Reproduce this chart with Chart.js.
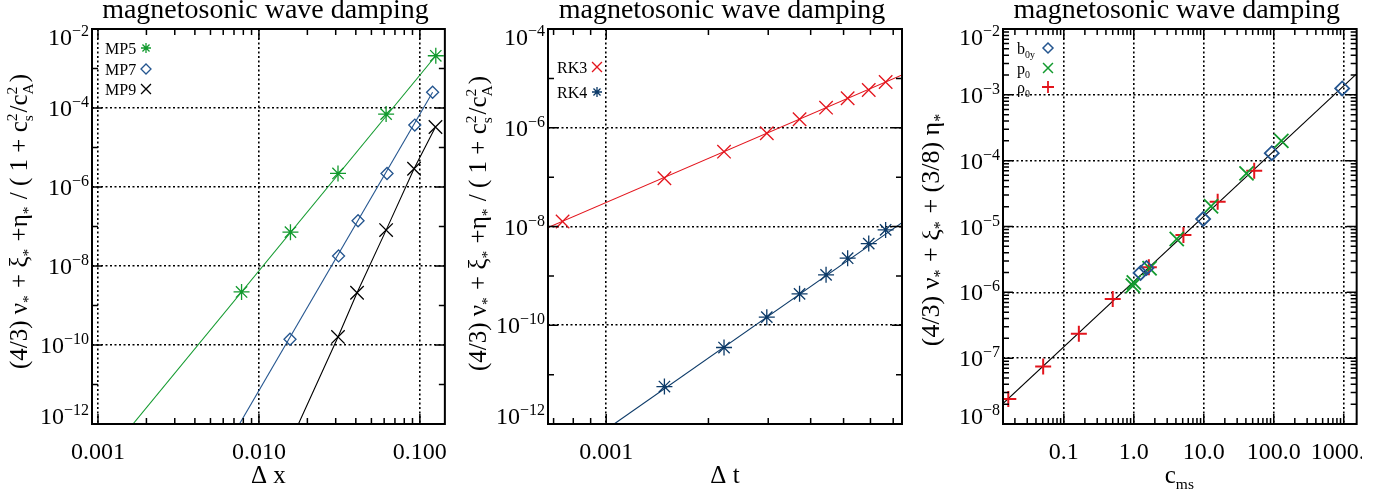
<!DOCTYPE html>
<html>
<head>
<meta charset="utf-8">
<script src="https://cdn.jsdelivr.net/npm/chart.js@4.4.1/dist/chart.umd.min.js"></script>
<style>
  html, body { margin: 0; padding: 0; background: #fff; }
  body { width: 1392px; height: 493px; position: relative; overflow: hidden; }
  .pane { position: absolute; top: 0; height: 493px; overflow: hidden; }
</style>
</head>
<body>
<div class="pane" style="left:0;width:462px"><canvas id="c1" width="462" height="493"></canvas></div>
<div class="pane" style="left:462px;width:460px"><canvas id="c2" width="460" height="493"></canvas></div>
<div class="pane" style="left:922px;width:440px"><canvas id="c3" width="470" height="493"></canvas></div>
<script>
// ---- panel 1: error vs grid spacing
const mp5Dx  = [0.0078, 0.0157, 0.031, 0.0617, 0.1256]
const mp5Err = [2.2e-9, 7.2e-8, 2.2e-6, 7.0e-5, 2.1e-3]
const mp7Dx  = [0.0156, 0.03125, 0.0413, 0.0625, 0.093, 0.12]
const mp7Err = [1.4e-10, 1.8e-8, 1.4e-7, 2.2e-6, 3.7e-5, 2.5e-4]
const mp9Dx  = [0.031, 0.0407, 0.0617, 0.092, 0.125]
const mp9Err = [1.6e-10, 2.1e-9, 8.1e-8, 2.9e-6, 3.3e-5]
// fitted lines (end points)
const mp5FitDx = [0.00165, 0.1256]
const mp5FitErr = [1e-12, 2.1e-3]
const mp7FitDx = [0.00757, 0.12]
const mp7FitErr = [1e-12, 2.5e-4]
const mp9FitDx = [0.0176, 0.031, 0.0407, 0.0617, 0.092, 0.125]
const mp9FitErr = [1e-12, 1.6e-10, 2.1e-9, 8.1e-8, 2.9e-6, 3.3e-5]

// ---- panel 2: error vs time step
const rk3Dt  = [0.000744, 0.001484, 0.002223, 0.002971, 0.00371, 0.00444, 0.00514, 0.00593, 0.00665]
const rk3Err = [1.26e-8, 9.5e-8, 3.28e-7, 7.74e-7, 1.49e-6, 2.55e-6, 3.96e-6, 5.82e-6, 8.45e-6]
const rk4Dt  = [0.001484, 0.002223, 0.002971, 0.00371, 0.00444, 0.00514, 0.00593, 0.00665]
const rk4Err = [5.74e-12, 3.54e-11, 1.46e-10, 4.33e-10, 1.05e-9, 2.28e-9, 4.51e-9, 8.53e-9]
const rk3FitDt = [0.000674, 0.00743]
const rk3FitErr = [9.5e-9, 1.17e-5]
const rk4FitDt = [0.001055, 0.00743]
const rk4FitErr = [1e-12, 1.2e-8]

// ---- panel 3: damping vs c_ms
const b0yCms  = [1.25, 1.52, 9.8, 93.8, 952]
const b0yDamp = [1.97e-6, 2.35e-6, 1.30e-5, 1.30e-4, 1.25e-3]
const p0Cms   = [0.97, 1.0, 1.68, 4.11, 12.7, 40.8, 128.5]
const p0Damp  = [1.26e-6, 1.41e-6, 2.32e-6, 6.46e-6, 2.03e-5, 6.41e-5, 2.0e-4]
const rho0Cms  = [0.0161, 0.0507, 0.164, 0.50, 1.64, 5.12, 15.8, 52.6]
const rho0Damp = [2.4e-8, 7.46e-8, 2.34e-7, 7.9e-7, 2.4e-6, 7.43e-6, 2.38e-5, 7.03e-5]
const cmsFit  = [0.0135, 1500]
const dampFit = [2.04e-8, 2.05e-3]

// ---- tick labels
const dxLabels  = [[0.001, '0.001'], [0.01, '0.010'], [0.1, '0.100']]
const dtLabels  = [[0.001, '0.001']]
const cmsLabels = [[0.1, '0.1'], [1, '1.0'], [10, '10.0'], [100, '100.0'], [1000, '1000.0']]
const errExp1 = [-12, -10, -8, -6, -4, -2]
const errExp2 = [-12, -10, -8, -6, -4]
const dampExp = [-8, -7, -6, -5, -4, -3, -2]

const SERIF = '"Liberation Serif", "Times New Roman", serif'
const GREEN = '#129a2e'
const BLUE = '#24558f'
const NAVY = '#0c3a68'
const RED = '#e3141c'

const pts = (xs, ys) => xs.map((x, i) => ({x: x, y: ys[i]}))
const lg = Math.log10
const near = (v, list) => list.some(b => Math.abs(lg(v) - lg(b)) < 1e-6)

function logTicks(min, max, mults) {
  const out = []
  for (let e = Math.floor(lg(min)) - 1; e <= Math.ceil(lg(max)) + 1; e++) {
    for (const m of mults) {
      const v = m * Math.pow(10, e)
      if (v >= min * 0.9999 && v <= max * 1.0001) out.push(v)
    }
  }
  return out
}

const ALL = [1, 2, 3, 4, 5, 6, 7, 8, 9]

function axis(o) {
  const list = logTicks(o.min, o.max, o.mults)
  o.list = list
  return {
    type: 'logarithmic',
    min: o.min,
    max: o.max,
    afterBuildTicks: s => { s.ticks = list.map(v => ({value: v})) },
    afterFit: s => { if (o.x) s.height = o.size; else s.width = o.size },
    grid: {
      drawTicks: false,
      lineWidth: 1.6,
      color: c => (c.tick && near(c.tick.value, o.grid)) ? '#000' : 'rgba(0,0,0,0)'
    },
    border: {display: false, dash: [2, 2.5]},
    ticks: o.x ? {
      autoSkip: false, maxRotation: 0, minRotation: 0, padding: 14,
      color: '#000', font: {family: SERIF, size: 24},
      callback: v => {
        const f = o.labels.find(l => Math.abs(lg(l[0]) - lg(v)) < 1e-6)
        return f ? f[1] : ''
      }
    } : {display: false}
  }
}

// rich text: segments [kind, text]; kind n = normal, u = sup, d = sub, ud = [sup, sub]
function rich(ctx, segs, x, y, size, align) {
  const sm = size * 0.62
  const f = s => s + 'px ' + SERIF
  const w = segs.map(g => {
    if (g[0] === 'n') { ctx.font = f(size); return ctx.measureText(g[1]).width }
    ctx.font = f(sm)
    if (g[0] === 'ud') return Math.max(ctx.measureText(g[1][0]).width, ctx.measureText(g[1][1]).width) + 1
    return ctx.measureText(g[1]).width + 1
  })
  const total = w.reduce((a, b) => a + b, 0)
  let cx = align === 'center' ? x - total / 2 : align === 'right' ? x - total : x
  ctx.textAlign = 'left'
  ctx.textBaseline = 'alphabetic'
  segs.forEach((g, i) => {
    if (g[0] === 'n') { ctx.font = f(size); ctx.fillText(g[1], cx, y) }
    else {
      ctx.font = f(sm)
      if (g[0] === 'u') ctx.fillText(g[1], cx, y - size * 0.42)
      else if (g[0] === 'd') ctx.fillText(g[1], cx, y + size * 0.22)
      else { ctx.fillText(g[1][0], cx, y - size * 0.42); ctx.fillText(g[1][1], cx, y + size * 0.24) }
    }
    cx += w[i]
  })
}

function mark(ctx, style, x, y, r) {
  const d = r * Math.SQRT1_2
  ctx.beginPath()
  if (style === 'rectRot') {
    ctx.moveTo(x - r, y); ctx.lineTo(x, y - r); ctx.lineTo(x + r, y); ctx.lineTo(x, y + r); ctx.closePath()
  }
  if (style === 'cross' || style === 'star') {
    ctx.moveTo(x - r, y); ctx.lineTo(x + r, y); ctx.moveTo(x, y - r); ctx.lineTo(x, y + r)
  }
  if (style === 'crossRot' || style === 'star') {
    ctx.moveTo(x - d, y - d); ctx.lineTo(x + d, y + d); ctx.moveTo(x - d, y + d); ctx.lineTo(x + d, y - d)
  }
  ctx.stroke()
}

function deco(spec) {
  return {
    id: 'deco',
    afterDraw(chart) {
      const {ctx, chartArea: a, scales} = chart
      ctx.save()
      ctx.strokeStyle = '#000'
      ctx.fillStyle = '#000'
      // inward tick marks on all four sides
      ctx.lineWidth = 1.5
      spec.xa.list.forEach(v => {
        const p = scales.x.getPixelForValue(v)
        const L = near(v, spec.xa.grid) ? 10 : 6
        ctx.beginPath()
        ctx.moveTo(p, a.bottom); ctx.lineTo(p, a.bottom - L)
        ctx.moveTo(p, a.top); ctx.lineTo(p, a.top + L)
        ctx.stroke()
      })
      spec.ya.list.forEach(v => {
        const p = scales.y.getPixelForValue(v)
        const L = near(v, spec.ya.grid) ? 10 : 6
        ctx.beginPath()
        ctx.moveTo(a.left, p); ctx.lineTo(a.left + L, p)
        ctx.moveTo(a.right, p); ctx.lineTo(a.right - L, p)
        ctx.stroke()
      })
      ctx.lineWidth = 2
      ctx.strokeRect(a.left, a.top, a.right - a.left, a.bottom - a.top)

      // y tick labels 10^n
      spec.yExp.forEach(e => {
        const p = scales.y.getPixelForValue(Math.pow(10, e))
        const base = Math.min(Math.max(p + 8, a.top + 16), a.bottom)
        ctx.textAlign = 'left'
        ctx.textBaseline = 'alphabetic'
        const sup = '\u2212' + Math.abs(e)
        ctx.font = '16px ' + SERIF
        const ws = ctx.measureText(sup).width
        ctx.font = '24px ' + SERIF
        const w10 = ctx.measureText('10').width
        const x0 = a.left - 3 - ws - w10
        ctx.fillText('10', x0, base)
        ctx.font = '16px ' + SERIF
        ctx.fillText(sup, x0 + w10, base - 9)
      })

      // title
      ctx.font = '28px ' + SERIF
      ctx.textAlign = 'center'
      ctx.textBaseline = 'alphabetic'
      ctx.fillText('magnetosonic wave damping', (a.left + a.right) / 2 - 3, 17.5)

      // axis titles
      rich(ctx, spec.xTitle, (a.left + a.right) / 2, 483, 25, 'center')
      ctx.save()
      ctx.translate(spec.yTitleX, (a.top + a.bottom) / 2 + spec.yTitleDy)
      ctx.rotate(-Math.PI / 2)
      rich(ctx, spec.yTitle, 0, 8, spec.yTitleSize, 'center')
      ctx.restore()

      // legend
      spec.legend.forEach(it => {
        ctx.fillStyle = '#000'
        rich(ctx, it.text, a.left + spec.legX, a.top + it.dy + 6, 16, 'left')
        ctx.strokeStyle = it.color
        ctx.lineWidth = it.lw
        mark(ctx, it.style, a.left + spec.legM, a.top + it.dy, it.r)
      })
      ctx.restore()
    }
  }
}

function markers(xs, ys, color, style, r, bw) {
  return {data: pts(xs, ys), showLine: false, pointStyle: style, pointRadius: r,
    borderColor: color, pointBorderWidth: bw, backgroundColor: 'rgba(0,0,0,0)'}
}
function fitLine(xs, ys, color) {
  return {data: pts(xs, ys), showLine: true, pointRadius: 0, borderColor: color, borderWidth: 1.1}
}

function panel(id, spec, datasets, pad) {
  new Chart(document.getElementById(id), {
    type: 'scatter',
    data: {datasets: datasets},
    options: {
      responsive: false,
      animation: false,
      events: [],
      layout: {padding: {left: 0, top: 29, right: pad, bottom: 0}},
      scales: {x: axis(spec.xa), y: axis(spec.ya)},
      plugins: {legend: {display: false}, tooltip: {enabled: false}}
    },
    plugins: [deco(spec)]
  })
}

const yTitleA = [['n', '(4/3) '], ['n', '\u03bd'], ['d', '*'], ['n', ' + '], ['n', '\u03be'], ['d', '*'],
  ['n', ' +'], ['n', '\u03b7'], ['d', '*'], ['n', ' / ( 1 + c'], ['ud', ['2', 's']], ['n', '/c'], ['ud', ['2', 'A']], ['n', ')']]
const yTitleB = [['n', '(4/3) '], ['n', '\u03bd'], ['d', '*'], ['n', ' + '], ['n', '\u03be'], ['d', '*'],
  ['n', ' + (3/8) '], ['n', '\u03b7'], ['d', '*']]

panel('c1', {
  xa: {min: 0.000918, max: 0.143, mults: ALL, grid: [0.001, 0.01, 0.1], labels: dxLabels, x: true, size: 69},
  ya: {min: 1e-12, max: 1e-2, mults: [1], grid: [1e-12, 1e-10, 1e-8, 1e-6, 1e-4, 1e-2], size: 92},
  yExp: errExp1,
  xTitle: [['n', '\u0394 x']],
  yTitle: yTitleA, yTitleX: 19, yTitleDy: -5, yTitleSize: 25,
  legX: 13, legM: 54,
  legend: [
    {text: [['n', 'MP5']], dy: 19, color: GREEN, style: 'star', r: 5, lw: 1.3},
    {text: [['n', 'MP7']], dy: 40, color: BLUE, style: 'rectRot', r: 5, lw: 1.3},
    {text: [['n', 'MP9']], dy: 60, color: '#000', style: 'crossRot', r: 7, lw: 1.3}
  ]
}, [
  markers(mp5Dx, mp5Err, GREEN, 'star', 8, 1.3),
  markers(mp7Dx, mp7Err, BLUE, 'rectRot', 6, 1.3),
  markers(mp9Dx, mp9Err, '#000', 'crossRot', 9.5, 1.3),
  fitLine(mp5FitDx, mp5FitErr, GREEN),
  fitLine(mp7FitDx, mp7FitErr, BLUE),
  fitLine(mp9FitDx, mp9FitErr, '#000')
], 16)

panel('c2', {
  xa: {min: 0.000674, max: 0.00743, mults: ALL, grid: [0.001], labels: dtLabels, x: true, size: 69},
  ya: {min: 1e-12, max: 1e-4, mults: [1], grid: [1e-12, 1e-10, 1e-8, 1e-6, 1e-4], size: 86},
  yExp: errExp2,
  xTitle: [['n', '\u0394 t']],
  yTitle: yTitleA, yTitleX: 16, yTitleDy: -3, yTitleSize: 25,
  legX: 9, legM: 49,
  legend: [
    {text: [['n', 'RK3']], dy: 38, color: RED, style: 'crossRot', r: 7, lw: 1.3},
    {text: [['n', 'RK4']], dy: 63, color: NAVY, style: 'star', r: 5, lw: 1.3}
  ]
}, [
  markers(rk3Dt, rk3Err, RED, 'crossRot', 9.5, 1.3),
  markers(rk4Dt, rk4Err, NAVY, 'star', 8, 1.3),
  fitLine(rk3FitDt, rk3FitErr, RED),
  fitLine(rk4FitDt, rk4FitErr, NAVY)
], 20)

panel('c3', {
  xa: {min: 0.01352, max: 1531, mults: ALL, grid: [0.1, 1, 10, 100, 1000], labels: cmsLabels, x: true, size: 69},
  ya: {min: 1e-8, max: 1e-2, mults: ALL, grid: [1e-8, 1e-7, 1e-6, 1e-5, 1e-4, 1e-3, 1e-2], size: 81},
  yExp: dampExp,
  xTitle: [['n', 'c'], ['d', 'ms']],
  yTitle: yTitleB, yTitleX: 9, yTitleDy: 3, yTitleSize: 26,
  legX: 14, legM: 45,
  legend: [
    {text: [['n', 'b'], ['d', '0y']], dy: 19, color: BLUE, style: 'rectRot', r: 5, lw: 1.5},
    {text: [['n', 'p'], ['d', '0']], dy: 39, color: GREEN, style: 'crossRot', r: 7, lw: 1.5},
    {text: [['n', '\u03c1'], ['d', '0']], dy: 58, color: RED, style: 'cross', r: 6, lw: 1.8}
  ]
}, [
  markers(b0yCms, b0yDamp, BLUE, 'rectRot', 7, 1.8),
  markers(p0Cms, p0Damp, GREEN, 'crossRot', 10, 1.8),
  markers(rho0Cms, rho0Damp, RED, 'cross', 8, 2),
  fitLine(cmsFit, dampFit, '#000')
], 35)
</script>
</body>
</html>
